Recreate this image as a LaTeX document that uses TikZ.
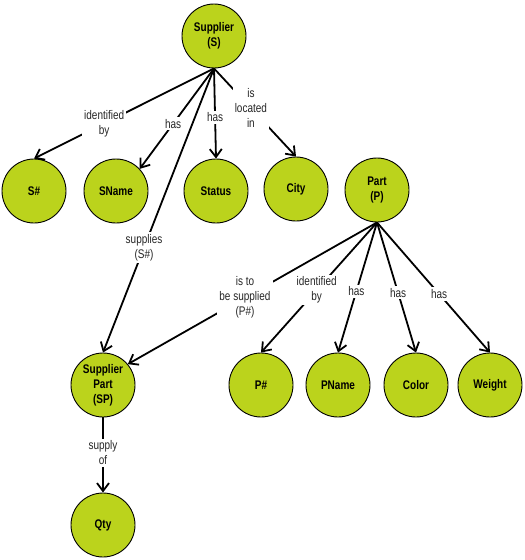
\documentclass[tikz,border=0pt]{standalone}
\usepackage{fontspec}
\setmainfont{Liberation Sans}[FakeStretch=0.8]
\usetikzlibrary{arrows.meta}
\definecolor{entgreen}{HTML}{BBD31C}

\begin{document}
\begin{tikzpicture}[x=1pt,y=-1pt,
  ent/.style={circle,draw,line width=0.9pt,fill=entgreen,minimum size=64pt,
              inner sep=0pt,align=center,font=\fontsize{12.5}{15}\selectfont\bfseries},
  rel/.style={line width=1.8pt,-{Straight Barb[length=8pt,width=12pt]}},
  lbl/.style={fill=white,inner sep=2pt,align=center,text=black!85,
              font=\fontsize{12.5}{15}\selectfont}]
  \useasboundingbox (0,0) rectangle (525,560);
  % entities
  \foreach \n/\x/\y/\t in {sup/214/36/{Supplier\\(S)}, ssharp/34/191/{S\#},
      sname/116/191/{SName}, status/216/191/{Status}, city/296/189/{City},
      part/377/190/{Part\\(P)}, sp/103/385/{Supplier\\Part\\(SP)},
      psharp/261/385/{P\#}, pname/338/385/{PName}, color/416/385/{Color},
      weight/490/385/{Weight}, qty/103/525/{Qty}}
    \node[ent] (\n) at (\x,\y) {\t};
  % relationships
  \foreach \a/\b/\p/\l in {sup.south/ssharp.north/0.61/{identified\\by},
      sup.south/sname.43/0.55/{has}, sup.south/status.north/0.54/{has},
      sup.south/city.north/0.45/{is\\located\\in},
      sup.south/sp.north/0.63/{supplies\\(S\#)},
      part.south/sp.40/0.53/{is to\\be supplied\\(P\#)},
      part.south/psharp.north/0.52/{identified\\by},
      part.south/pname.north/0.53/{has}, part.south/color.north/0.54/{has},
      part.south/weight.north/0.55/{has}, sp.south/qty.north/0.47/{supply\\of}}
    \draw[rel] (\a) -- node[lbl,pos=\p] {\l} (\b);
\end{tikzpicture}
\end{document}
